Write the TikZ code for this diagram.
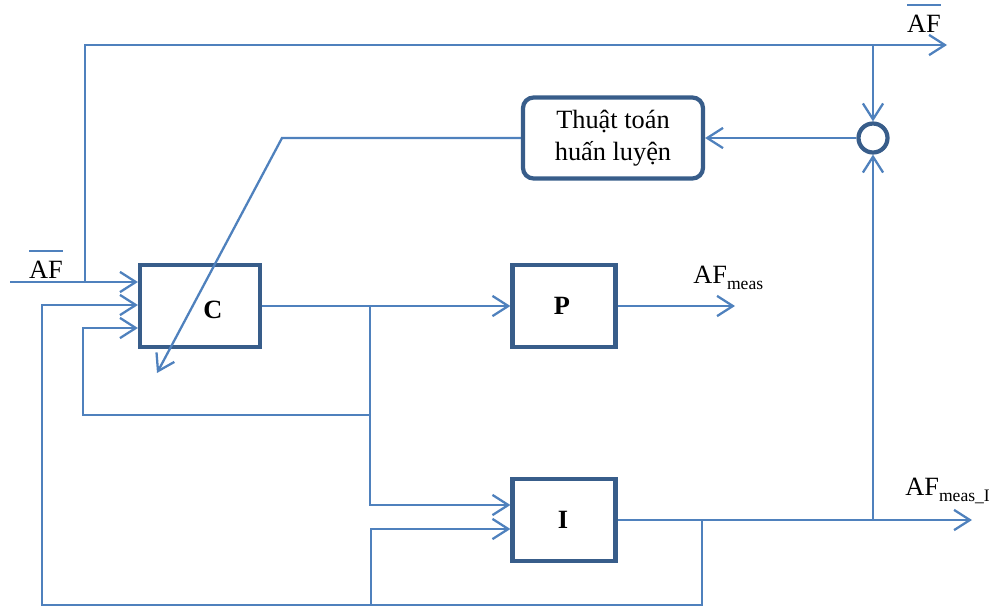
\documentclass[tikz,border=0pt]{standalone}
\usepackage{fontspec}
\setmainfont{Liberation Serif}
\usetikzlibrary{arrows.meta}
\definecolor{wire}{HTML}{4F81BD}
\definecolor{frame}{HTML}{385D8A}
% bar over a signal name, and a lowered index
\newcommand\ovl[1]{\setbox0\hbox{#1}\rlap{\color{wire}\rule[\dimexpr\ht0+5pt\relax]{\wd0}{1.1pt}}\box0}
\newcommand\lowtxt[1]{\raisebox{-3.5pt}{\fontsize{10}{12}\selectfont #1}}
\tikzset{
  wire/.style={draw=wire,line width=1.3pt},
  flow/.style={wire,-{Straight Barb[length=9pt,width=11.5pt]}},
  blk/.style={draw=frame,line width=2.4pt,minimum width=2.06cm,minimum height=1.64cm,inner sep=0pt},
  tag/.style={font=\fontsize{15}{18}\selectfont\bfseries,inner sep=0pt},
  sig/.style={inner sep=0pt}
}
\begin{document}
\begin{tikzpicture}[x=0.02cm,y=-0.02cm,font=\fontsize{15}{18}\selectfont]
	\useasboundingbox (0,0) rectangle (994,609);
	% blocks
	\node[blk,minimum width=2.4cm] (C) at (200,306) {};
	\node[blk] (P) at (564,306) {};
	\node[blk] (I) at (564,520) {};
	\node[blk,rounded corners=6pt,minimum width=3.6cm,minimum height=1.62cm,align=center] (train) at (613,138) {Thuật toán\\huấn luyện};
	\node[draw=frame,line width=2.4pt,circle,minimum size=0.58cm,inner sep=0pt] (sum) at (873,138) {};
	\node[tag] (Cname) at (213,310) {C};
	\node[tag] (Pname) at (562,306) {P};
	\node[tag] (Iname) at (563,520) {I};
	% bends and free ends
	\coordinate (afin) at (10,282);
	\coordinate (tap) at (85,282);
	\coordinate (afout) at (947,45);
	\coordinate (split) at (370,306);
	\coordinate (splitlow) at (370,415);
	\coordinate (fb2) at (83,415);
	\coordinate (fb1) at (42,605);
	\coordinate (ibranch) at (371,605);
	\coordinate (iout) at (702,520);
	\coordinate (tapI) at (873,520);
	\coordinate (measI) at (972,520);
	\coordinate (meas) at (735,306);
	\coordinate (bend) at (282,138);
	\coordinate (adj) at (157,373);
	% signals
	\draw[flow] (afin) -- (C.west |- afin);
	\draw[flow] (tap) |- (afout);
	\draw[flow] (sum |- afout) -- (sum);
	\draw[flow] (sum) -- (train);
	\draw[flow] (train) -- (bend) -- (adj);
	\draw[wire] (C) -- (split);
	\draw[flow] (split) -- (P);
	\draw[flow] (split) |- (I.west |- 0,505);
	\draw[flow] (splitlow) -- (fb2) |- (C.west |- 0,328);
	\draw[flow] (iout) |- (fb1) |- (C.west |- 0,305);
	\draw[flow] (ibranch) |- (I.west |- 0,529);
	\draw[flow] (I) -- (measI);
	\draw[flow] (tapI) -- (sum);
	\draw[flow] (P) -- (meas);
	% labels
	\node[sig,anchor=base] (afbar) at (46,278) {\ovl{AF}};
	\node[sig,anchor=base] (afbarout) at (924,32) {\ovl{AF}};
	\node[sig,anchor=base west] (afmeas) at (693,283) {AF\lowtxt{meas}};
	\node[sig,anchor=base west] (afmeasI) at (905,495) {AF\lowtxt{meas\_I}};
\end{tikzpicture}
\end{document}
